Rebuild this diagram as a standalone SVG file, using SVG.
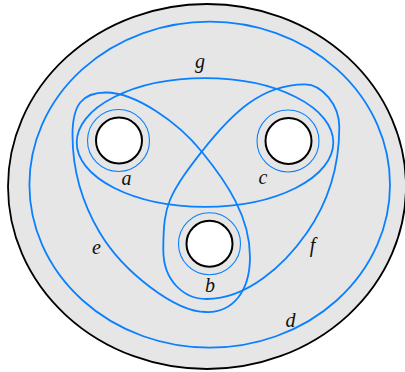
<svg xmlns="http://www.w3.org/2000/svg" width="405" height="372" viewBox="0 0 405 372">
  <style>
    .surf { fill: #e6e6e6; stroke: #000; stroke-width: 1.8; }
    .hole { fill: #fff; stroke: #000; stroke-width: 2; }
    .curve { fill: none; stroke: #0a80ff; stroke-width: 1.8; }
    .ring { fill: none; stroke: #0a80ff; stroke-width: 1.1; }
    .lbl { font-family: "Liberation Serif", "DejaVu Serif", serif; font-style: italic; font-size: 20px; fill: #111; text-anchor: middle; }
  </style>
  <rect width="405" height="372" fill="#fff"/>
  <g id="surface">
    <ellipse class="surf" cx="207" cy="186.5" rx="199" ry="182.5"/>
  </g>
  <g id="holes">
    <g id="hole-a"><circle class="hole" cx="119" cy="140.5" r="23"/><circle class="ring" cx="118.5" cy="140.5" r="31"/></g>
    <g id="hole-c"><circle class="hole" cx="288.5" cy="141" r="23"/><circle class="ring" cx="288" cy="141" r="31"/></g>
    <g id="hole-b"><circle class="hole" cx="209.5" cy="243.7" r="23"/><circle class="ring" cx="209.5" cy="243.7" r="31"/></g>
  </g>
  <g id="curves">
    <ellipse id="curve-d" class="curve" cx="209.7" cy="184.7" rx="180.3" ry="163"/>
    <ellipse id="curve-g" class="curve" cx="205" cy="142.5" rx="128.3" ry="64.3"/>
    <path id="curve-e" class="curve" d="M106,92.5 C135,92.5 178,122 202,152 C227.3,183 250,217 250,257 C250,292 232,313 206,312 C175,312 123.1,271.6 100,233 C82,203 72.5,170 72.5,135 C72.5,105 82,92.5 106,92.5 Z"/>
    <path id="curve-f" class="curve" d="M305,84.3 C262,84.3 232.5,112.3 201.7,151.7 C190,166.7 177.1,183.2 170,200 C165,212 163.3,225 163.3,250 C163.3,280 183,299 206.7,299 C246.7,299 283.8,265.8 306.7,233 C326.8,204.3 339.3,170 339.3,127 C339.3,105 322,84.3 305,84.3 Z"/>
  </g>
  <g id="labels">
    <text class="lbl" x="200" y="68">g</text>
    <text class="lbl" x="126.5" y="185">a</text>
    <text class="lbl" x="263" y="183.5">c</text>
    <text class="lbl" x="96.5" y="254">e</text>
    <text class="lbl" x="312.5" y="252">f</text>
    <text class="lbl" x="210" y="291.5">b</text>
    <text class="lbl" x="290.5" y="326.5">d</text>
  </g>
</svg>
